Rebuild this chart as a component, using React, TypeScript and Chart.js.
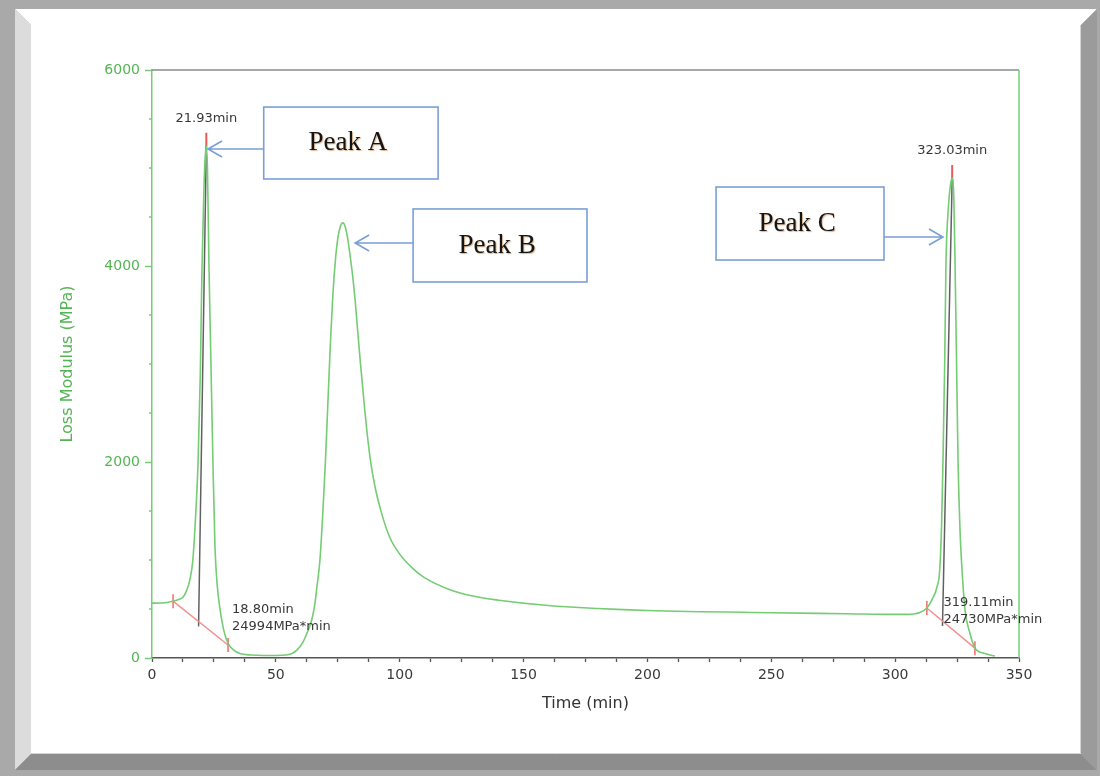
import { useEffect, useRef } from "react";
import { Chart, registerables } from "chart.js";

Chart.register(...registerables);

// Loss modulus trace (time in minutes, modulus in MPa)
const timeMin = [
  0, 4, 8.5, 10.5, 12.5, 14, 15.3, 16.5, 17.5, 18.6, 19.5, 20.2, 21, 21.5, 21.93, 22.4, 23, 23.8,
  24.6, 25.4, 26.3, 27.5, 29, 30.7, 33, 35.5, 40, 45, 50, 54, 56.5, 58.5, 61, 63, 64.6, 65.8, 66.6,
  67.8, 69, 70, 71, 72, 73, 74, 75, 76, 77, 78, 79, 80, 81, 82, 83, 84, 86, 88, 90, 93, 96, 100,
  105, 110, 120, 130, 140, 160, 180, 200, 250, 280, 300, 305, 308, 310, 312.8, 315, 316.9, 318,
  318.8, 319.3, 320, 320.5, 321.5, 322.3, 323.03, 323.7, 324.2, 324.8, 325.4, 326.2, 327, 328.2,
  330, 332.2, 335.5, 340.3,
];
const lossModulus = [
  560, 562, 580, 595, 620, 690, 800, 1000, 1400, 2000, 2900, 4000, 4820, 5120, 5230, 4980, 4000,
  3000, 2000, 1150, 750, 490, 280, 150, 80, 45, 30, 25, 25, 30, 45, 80, 165, 280, 400, 560, 730,
  1000, 1500, 2000, 2600, 3200, 3700, 4050, 4280, 4400, 4440, 4400, 4280, 4100, 3900, 3650, 3350,
  3050, 2500, 2050, 1750, 1450, 1230, 1060, 920, 820, 700, 630, 590, 535, 505, 485, 462, 452, 445,
  445, 452, 465, 510, 600, 725, 900, 1400, 2000, 3000, 4000, 4600, 4820, 4900, 4680, 4000, 3000,
  2000, 1300, 900, 490, 270, 100, 50, 20,
];

// Integration results for the two evaluated peaks
const peakTimes = [21.93, 323.03];
const peakHeights = [5230, 4900];
const dropTimes = [18.8, 319.11];
const peakAreas = [24994, 24730];
const baselineStartTimes = [8.5, 312.8];
const baselineStartValues = [580, 510];
const baselineEndTimes = [30.7, 332.2];
const baselineEndValues = [133, 100];

// Axis ticks
const xMajorStep = 50;
const xMinorStep = 12.5;
const yMajorStep = 2000;
const yMinorStep = 500;

const GREEN_LINE = "#74cc74";
const GREEN_TEXT = "#55b455";
const AXIS_GREY = "#555555";
const FONT = "'DejaVu Sans', sans-serif";

// Callout boxes, placed in data units
const callouts = [
  { text: "Peak A", from: 45.1, to: 115.5, top: 5622, bottom: 4888, arrowY: 5194, tipX: 22.6 },
  { text: "Peak B", from: 105.4, to: 175.6, top: 4582, bottom: 3837, arrowY: 4235, tipX: 82.0 },
  { text: "Peak C", from: 227.7, to: 295.5, top: 4806, bottom: 4061, arrowY: 4296, tipX: 319.3 },
];

function baselineAt(i: number, t: number) {
  const t0 = baselineStartTimes[i];
  const t1 = baselineEndTimes[i];
  const v0 = baselineStartValues[i];
  const v1 = baselineEndValues[i];
  return v0 + ((t - t0) / (t1 - t0)) * (v1 - v0);
}

const framePlugin = {
  id: "pictureFrame",
  beforeDraw(chart: any) {
    const { ctx, width, height } = chart;
    ctx.save();
    ctx.fillStyle = "#a9a9a9";
    ctx.fillRect(0, 0, width, height);
    const L = 15, T = 9, R = 1097, B = 770, bw = 16;
    const poly = (pts: number[][], color: string) => {
      ctx.beginPath();
      ctx.moveTo(pts[0][0], pts[0][1]);
      for (let i = 1; i < pts.length; i++) ctx.lineTo(pts[i][0], pts[i][1]);
      ctx.closePath();
      ctx.fillStyle = color;
      ctx.fill();
    };
    poly([[L, T], [R, T], [R - bw, T + bw], [L + bw, T + bw]], "#ffffff");
    poly([[L, T], [L + bw, T + bw], [L + bw, B - bw], [L, B]], "#dcdcdc");
    poly([[L, B], [L + bw, B - bw], [R - bw, B - bw], [R, B]], "#8d8d8d");
    poly([[R, T], [R, B], [R - bw, B - bw], [R - bw, T + bw]], "#9b9b9b");
    ctx.fillStyle = "#ffffff";
    ctx.fillRect(L + bw, T + bw, R - L - 2 * bw, B - T - 2 * bw);
    ctx.strokeStyle = "#d4d4d4";
    ctx.lineWidth = 1;
    ctx.beginPath();
    ctx.moveTo(L + bw, B - bw - 0.5);
    ctx.lineTo(R - bw - 0.5, B - bw - 0.5);
    ctx.lineTo(R - bw - 0.5, T + bw);
    ctx.stroke();
    ctx.restore();
  },
};

const decorPlugin = {
  id: "plotDecor",
  afterDraw(chart: any) {
    const { ctx, chartArea } = chart;
    const xs = chart.scales.x;
    const ys = chart.scales.y;
    ctx.save();

    // top and right frame lines of the plot
    ctx.lineWidth = 1.5;
    ctx.strokeStyle = "#8a8a8a";
    ctx.beginPath();
    ctx.moveTo(chartArea.left, chartArea.top);
    ctx.lineTo(chartArea.right, chartArea.top);
    ctx.stroke();
    ctx.strokeStyle = GREEN_LINE;
    ctx.beginPath();
    ctx.moveTo(chartArea.right, chartArea.top);
    ctx.lineTo(chartArea.right, chartArea.bottom);
    ctx.stroke();

    // minor y ticks
    ctx.strokeStyle = GREEN_LINE;
    ctx.lineWidth = 1.5;
    for (const tk of ys.ticks) {
      if (tk.value % yMajorStep === 0) continue;
      const py = ys.getPixelForValue(tk.value);
      ctx.beginPath();
      ctx.moveTo(chartArea.left - 3, py);
      ctx.lineTo(chartArea.left, py);
      ctx.stroke();
    }

    // peak annotations
    ctx.fillStyle = "#383838";
    ctx.font = `13px ${FONT}`;
    ctx.textBaseline = "middle";
    peakTimes.forEach((t, i) => {
      const px = xs.getPixelForValue(t);
      const py = ys.getPixelForValue(peakHeights[i] + 130);
      ctx.textAlign = "center";
      ctx.fillText(`${t.toFixed(2)}min`, px, py - 14);
      const lx = xs.getPixelForValue(i === 0 ? baselineEndTimes[i] : dropTimes[i]) + (i === 0 ? 4 : 1);
      const ly = ys.getPixelForValue(i === 0 ? 490 : 560);
      ctx.textAlign = "left";
      ctx.fillText(`${dropTimes[i].toFixed(2)}min`, lx, ly);
      ctx.fillText(`${peakAreas[i]}MPa*min`, lx, ly + 17);
    });

    // callout boxes with arrows
    for (const c of callouts) {
      const x0 = xs.getPixelForValue(c.from);
      const x1 = xs.getPixelForValue(c.to);
      const y0 = ys.getPixelForValue(c.top);
      const y1 = ys.getPixelForValue(c.bottom);
      const ay = ys.getPixelForValue(c.arrowY);
      const tip = xs.getPixelForValue(c.tipX);
      ctx.fillStyle = "#ffffff";
      ctx.fillRect(x0, y0, x1 - x0, y1 - y0);
      ctx.strokeStyle = "#7a9fd6";
      ctx.lineWidth = 1.6;
      ctx.strokeRect(x0, y0, x1 - x0, y1 - y0);
      const start = tip < x0 ? x0 : x1;
      const dir = tip < x0 ? 1 : -1;
      ctx.beginPath();
      ctx.moveTo(start, ay);
      ctx.lineTo(tip, ay);
      ctx.moveTo(tip + dir * 14, ay - 8);
      ctx.lineTo(tip, ay);
      ctx.lineTo(tip + dir * 14, ay + 8);
      ctx.stroke();

      ctx.save();
      ctx.font = `27px 'Liberation Serif', serif`;
      ctx.textAlign = "center";
      ctx.textBaseline = "middle";
      ctx.shadowColor = "rgba(190,120,50,0.55)";
      ctx.shadowOffsetX = 1;
      ctx.shadowOffsetY = 1;
      ctx.shadowBlur = 1;
      ctx.fillStyle = "#151515";
      ctx.fillText(c.text, (x0 + x1) / 2 - 3, (y0 + y1) / 2);
      ctx.restore();
    }
    ctx.restore();
  },
};

export default function App() {
  const canvasRef = useRef<HTMLCanvasElement | null>(null);

  useEffect(() => {
    if (!canvasRef.current) return;
    const curve = timeMin.map((t, i) => ({ x: t, y: lossModulus[i] }));
    const baselines = [0, 1].map((i) => ({
      type: "line" as const,
      data: [
        { x: baselineStartTimes[i], y: baselineStartValues[i] },
        { x: baselineEndTimes[i], y: baselineEndValues[i] },
      ],
      borderColor: "#f29090",
      borderWidth: 1.5,
      pointStyle: "line" as const,
      rotation: 90,
      pointRadius: 7,
      pointBorderColor: "#f06a6a",
      pointBorderWidth: 1.5,
      order: 2,
    }));
    const drops = [0, 1].map((i) => ({
      type: "line" as const,
      data: [
        { x: peakTimes[i], y: peakHeights[i] },
        { x: dropTimes[i], y: baselineAt(i, dropTimes[i]) - 50 },
      ],
      borderColor: "#606060",
      borderWidth: 1.5,
      pointRadius: 0,
      order: 3,
    }));
    const apexMarks = [0, 1].map((i) => ({
      type: "line" as const,
      data: [
        { x: peakTimes[i], y: peakHeights[i] - 40 },
        { x: peakTimes[i], y: peakHeights[i] + 130 },
      ],
      borderColor: "#e85a5a",
      borderWidth: 2,
      pointRadius: 0,
      order: 4,
    }));

    const chart = new Chart(canvasRef.current, {
      type: "line",
      data: {
        datasets: [
          {
            data: curve,
            borderColor: GREEN_LINE,
            borderWidth: 1.6,
            pointRadius: 0,
            cubicInterpolationMode: "monotone",
            order: 1,
          },
          ...baselines,
          ...drops,
          ...apexMarks,
        ] as any,
      },
      options: {
        animation: false,
        responsive: false,
        layout: { padding: { left: 0, right: 81, top: 70, bottom: 0 } },
        plugins: { legend: { display: false }, tooltip: { enabled: false } },
        scales: {
          x: {
            type: "linear",
            min: 0,
            max: 350,
            afterFit: (s: any) => {
              s.height = 118;
            },
            ticks: {
              stepSize: xMinorStep,
              autoSkip: false,
              maxRotation: 0,
              padding: 5,
              color: "#3a3a3a",
              font: { family: FONT, size: 14 },
              callback: (v: any) => (Number(v) % xMajorStep === 0 ? String(v) : ""),
            },
            grid: { drawOnChartArea: false, tickLength: 4, color: AXIS_GREY, tickWidth: 1.3 },
            border: { color: AXIS_GREY, width: 1.5 },
            title: {
              display: true,
              text: "Time (min)",
              color: "#333333",
              font: { family: FONT, size: 16 },
              padding: { bottom: 63 },
            },
          },
          y: {
            type: "linear",
            min: 0,
            max: 6000,
            afterFit: (s: any) => {
              s.width = 152;
            },
            ticks: {
              stepSize: yMinorStep,
              autoSkip: false,
              padding: 5,
              color: GREEN_TEXT,
              font: { family: FONT, size: 14 },
              callback: (v: any) => (Number(v) % yMajorStep === 0 ? String(v) : ""),
            },
            grid: {
              drawOnChartArea: false,
              tickLength: 7,
              tickWidth: 1.5,
              tickColor: (c: any) =>
                c.tick && c.tick.value % yMajorStep === 0 ? GREEN_LINE : "rgba(0,0,0,0)",
            },
            border: { color: GREEN_LINE, width: 1.5 },
            title: {
              display: true,
              text: "Loss Modulus (MPa)",
              color: GREEN_TEXT,
              font: { family: FONT, size: 16 },
              padding: { top: 58 },
            },
          },
        },
      },
      plugins: [framePlugin, decorPlugin],
    });
    return () => chart.destroy();
  }, []);

  return (
    <div style={{ position: "absolute", left: 0, top: 0, width: 1100, height: 776 }}>
      <canvas ref={canvasRef} width={1100} height={776} style={{ display: "block" }} />
    </div>
  );
}
